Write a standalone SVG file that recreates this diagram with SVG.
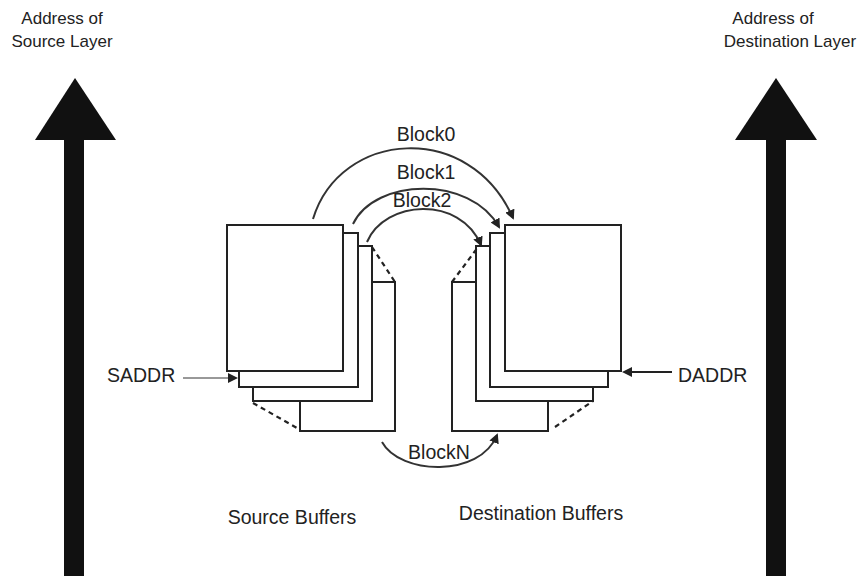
<svg xmlns="http://www.w3.org/2000/svg" width="859" height="576" viewBox="0 0 859 576">
<style>
text{font-family:"Liberation Sans",Arial,sans-serif;font-size:17px;fill:#222}
.l{font-size:19.5px}
.b{fill:#fff;stroke:#222;stroke-width:2}
.d{stroke:#222;stroke-width:2.2;stroke-dasharray:5,4;fill:none}
.c{fill:none;stroke:#333;stroke-width:2}
</style>
<defs>
<marker id="ah" markerWidth="10" markerHeight="10" refX="8" refY="5" orient="auto" markerUnits="userSpaceOnUse"><path d="M0,0 L10,5 L0,10 Z" fill="#222"/></marker>
</defs>
<rect width="859" height="576" fill="#fff"/>
<g id="srcAxis"><rect x="64" y="138" width="20" height="438" fill="#111"/><path d="M75,78 L116,140 L35,140 Z" fill="#111"/>
<text x="62" y="24" text-anchor="middle">Address of</text><text x="62" y="47" text-anchor="middle">Source Layer</text></g>
<g id="dstAxis"><rect x="766" y="138" width="20" height="438" fill="#111"/><path d="M776,78 L817,140 L735,140 Z" fill="#111"/>
<text x="773" y="24" text-anchor="middle">Address of</text><text x="790" y="47" text-anchor="middle">Destination Layer</text></g>
<g id="srcBuffers">
<rect class="b" x="300" y="282" width="95" height="149"/>
<rect class="b" x="253" y="246" width="119" height="155"/>
<rect class="b" x="239" y="233" width="119" height="154"/>
<rect class="b" x="227" y="225" width="116" height="146"/>
<line class="d" x1="372" y1="247" x2="395" y2="282"/>
<line class="d" x1="253" y1="403" x2="297" y2="428"/>
<text class="l" x="292" y="524" text-anchor="middle">Source Buffers</text>
</g>
<g id="dstBuffers">
<rect class="b" x="452" y="282" width="96" height="149"/>
<rect class="b" x="476" y="246" width="117" height="155"/>
<rect class="b" x="490" y="233" width="118" height="154"/>
<rect class="b" x="505" y="225" width="116" height="146"/>
<line class="d" x1="452" y1="282" x2="478" y2="247"/>
<line class="d" x1="555" y1="427" x2="593" y2="401"/>
<text class="l" x="541" y="520" text-anchor="middle">Destination Buffers</text>
</g>
<g id="saddr"><text class="l" x="107" y="382">SADDR</text></g>
<g id="daddr"><text class="l" x="678" y="382">DADDR</text></g>
<g id="connectors">
<path class="c" d="M313,219 C340,130 470,120 513,218" marker-end="url(#ah)"/>
<path class="c" d="M353,224 C375,178 470,175 499,227" marker-end="url(#ah)"/>
<path class="c" d="M367,242 C385,200 460,195 481,245" marker-end="url(#ah)"/>
<path class="c" d="M382,442 C400,475 480,478 497,435" marker-end="url(#ah)"/>
<line x1="183" y1="378" x2="236" y2="378" stroke="#333" stroke-width="1" marker-end="url(#ah)"/>
<line x1="672" y1="372" x2="624" y2="372" stroke="#222" stroke-width="2" marker-end="url(#ah)"/>
<text class="l" x="426" y="141" text-anchor="middle">Block0</text>
<text class="l" x="426" y="179" text-anchor="middle">Block1</text>
<text class="l" x="422" y="207" text-anchor="middle">Block2</text>
<text class="l" x="439" y="459" text-anchor="middle">BlockN</text>
</g>
</svg>
